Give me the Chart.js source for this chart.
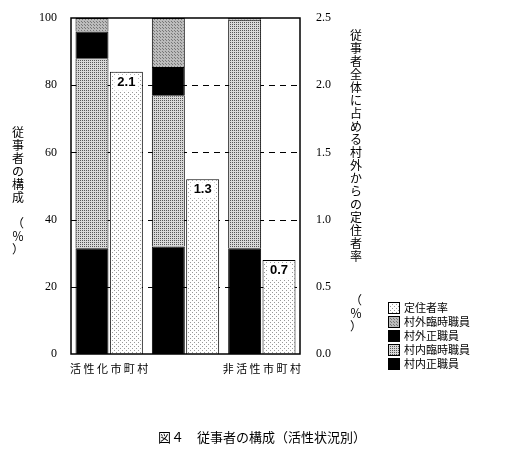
<!DOCTYPE html>
<html><head><meta charset="utf-8">
<script src="https://cdn.jsdelivr.net/npm/chart.js@4/dist/chart.umd.min.js"></script>
<style>body{margin:0;background:#fff}#wrap{width:514px;height:450px}</style>
</head><body><div id="wrap"><canvas id="c" width="514" height="450"></canvas></div>
<script>
var categories = ["活 性 化 市 町 村", "平 均 的 市 町 村", "非 活 性 市 町 村"];
var naiSei = [31.5, 32, 31.5];     // 村内正職員
var naiRinji = [56.5, 45, 68];     // 村内臨時職員
var gaiSei = [8, 8.4, 0];          // 村外正職員
var gaiRinji = [4, 14.6, 0.5];     // 村外臨時職員
var teiju = [2.1, 1.3, 0.7];       // 定住者率
var leftTicks = [0, 20, 40, 60, 80, 100];
var rightTicks = ["0.0", "0.5", "1.0", "1.5", "2.0", "2.5"];

function pattern(bg, fg, step) {
	var p = document.createElement('canvas');
	p.width = step; p.height = step;
	var g = p.getContext('2d');
	g.fillStyle = bg; g.fillRect(0, 0, step, step);
	g.fillStyle = fg;
	g.fillRect(0, 0, 1, 1);
	if (step > 2) g.fillRect(Math.floor(step / 2), Math.floor(step / 2), 1, 1);
	return g.createPattern(p, 'repeat');
}
var ctx = document.getElementById('c').getContext('2d');
var pHatch = pattern('#d8d8d8', '#555', 2);
var pGray = pattern('#bbb', '#777', 3);
var pDot = pattern('#fff', '#999', 4);

var overlay = {
	id: 'overlay',
	beforeDatasetsDraw: function(chart) {
		var c = chart.ctx, a = chart.chartArea, y = chart.scales.y;
		c.save();
		c.strokeStyle = '#000'; c.lineWidth = 1; c.setLineDash([6, 5]);
		[20, 40, 60, 80].forEach(function(v) {
			var py = Math.round(y.getPixelForValue(v)) + 0.5;
			c.beginPath(); c.moveTo(a.left, py); c.lineTo(a.right, py); c.stroke();
		});
		c.restore();
	},
	afterDraw: function(chart) {
		var c = chart.ctx, a = chart.chartArea;
		c.save();
		c.strokeStyle = '#000'; c.lineWidth = 1.5;
		c.strokeRect(a.left, a.top, a.right - a.left, a.bottom - a.top);
		// value labels
		var meta = chart.getDatasetMeta(4);
		c.font = 'bold 13px "Liberation Sans"'; c.fillStyle = '#000';
		c.textAlign = 'center'; c.textBaseline = 'top';
		meta.data.forEach(function(b, i) {
			c.fillStyle = '#fff'; c.fillRect(b.x - 12, b.y + 3, 24, 16);
			c.fillStyle = '#000'; c.fillText(teiju[i].toFixed(1), b.x, b.y + 4);
		});
		// vertical titles
		c.font = '12px "Noto Sans CJK JP"'; c.textBaseline = 'middle';
		var lt = ['従','事','者','の','構','成','','（','％','）'];
		lt.forEach(function(ch, i) { if (ch) c.fillText(ch, 18, 132 + i * 13); });
		var rt = '従事者全体に占める村外からの定住者率'.split('');
		rt.forEach(function(ch, i) { c.fillText(ch, 356, 35 + i * 13); });
		['（','％','）'].forEach(function(ch, i) { c.fillText(ch, 356, 300 + i * 13); });
		// legend
		var items = [['定住者率', pDot], ['村外臨時職員', pGray], ['村外正職員', '#000'], ['村内臨時職員', pHatch], ['村内正職員', '#000']];
		c.textAlign = 'left'; c.font = '11px "Noto Sans CJK JP"';
		items.forEach(function(it, i) {
			var yy = 302 + i * 14;
			c.fillStyle = it[1]; c.fillRect(388, yy, 11, 11);
			c.strokeStyle = '#000'; c.lineWidth = 1; c.strokeRect(388.5, yy + 0.5, 11, 11);
			c.fillStyle = '#000'; c.fillText(it[0], 404, yy + 6);
		});
		// caption
		c.textAlign = 'center'; c.font = '13px "Noto Sans CJK JP"';
		c.fillText('図４　従事者の構成（活性状況別）', 262, 437);
		c.restore();
	}
};

function ds(label, data, color, stack, axis) {
	return { label: label, data: data, backgroundColor: color, borderColor: '#000', borderWidth: 1,
		stack: stack, yAxisID: axis, barPercentage: 0.96, categoryPercentage: 0.9 };
}

new Chart(ctx, {
	type: 'bar',
	data: {
		labels: categories.map(function(l, i) { return i === 1 ? ['', l] : l; }),
		datasets: [
			ds('村内正職員', naiSei, '#000', 'a', 'y'),
			ds('村内臨時職員', naiRinji, pHatch, 'a', 'y'),
			ds('村外正職員', gaiSei, '#000', 'a', 'y'),
			ds('村外臨時職員', gaiRinji, pGray, 'a', 'y'),
			ds('定住者率', teiju, pDot, 'b', 'y2')
		]
	},
	options: {
		responsive: false, animation: false,
		layout: { padding: { top: 18, left: 0, right: 0, bottom: 0 } },
		plugins: { legend: { display: false }, tooltip: { enabled: false } },
		scales: {
			x: { stacked: true, grid: { display: false, drawTicks: false }, border: { display: false },
				ticks: { color: '#000', font: { size: 11, family: 'Noto Sans CJK JP' }, padding: 8, maxRotation: 0 },
				afterFit: function(s) { s.height = 96; } },
			y: { stacked: true, min: 0, max: 100, position: 'left',
				grid: { display: false }, border: { display: false },
				ticks: { stepSize: 20, color: '#000', font: { size: 12, family: 'Liberation Serif' }, padding: 6,
					callback: function(v) { return leftTicks.indexOf(v) >= 0 ? v : ''; } },
				afterFit: function(s) { s.width = 71; } },
			y2: { stacked: true, min: 0, max: 2.5, position: 'right',
				grid: { display: false }, border: { display: false },
				ticks: { stepSize: 0.5, color: '#000', font: { size: 12, family: 'Liberation Serif' }, padding: 8,
					callback: function(v) { return rightTicks[Math.round(v * 2)]; } },
				afterFit: function(s) { s.width = 214; } }
		}
	},
	plugins: [overlay]
});
</script></body></html>
